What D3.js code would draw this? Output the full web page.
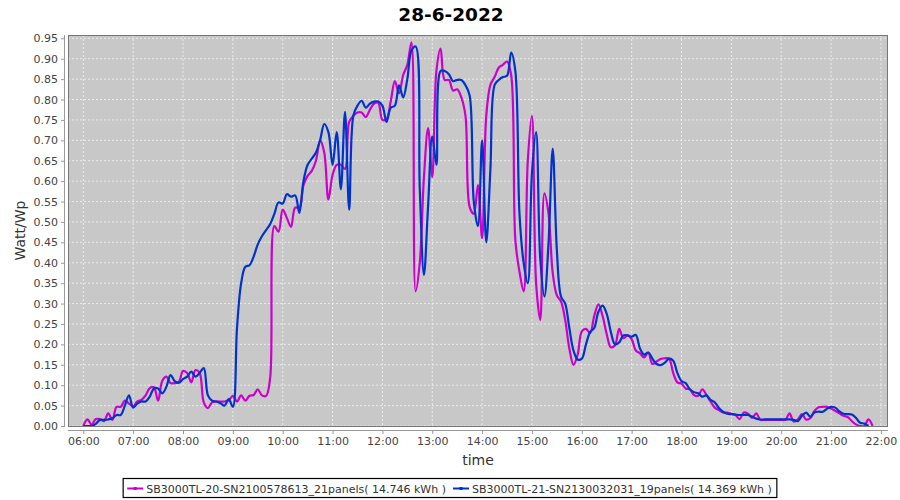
<!DOCTYPE html>
<html><head><meta charset="utf-8">
<script src="https://cdn.jsdelivr.net/npm/d3@7"></script>
<style>body{margin:0;background:#fff}svg{display:block}</style>
</head><body>
<svg id="c" width="900" height="500"></svg>
<script>
const title = "28-6-2022";
const startTime = "06:00";
const stepMinutes = 5;
const xTickLabels = ["06:00","07:00","08:00","09:00","10:00","11:00","12:00","13:00","14:00","15:00","16:00","17:00","18:00","19:00","20:00","21:00","22:00"];
const yTicks = [0,0.05,0.10,0.15,0.20,0.25,0.30,0.35,0.40,0.45,0.50,0.55,0.60,0.65,0.70,0.75,0.80,0.85,0.90,0.95];
const seriesNames = ["SB3000TL-20-SN2100578613_21panels( 14.746 kWh )","SB3000TL-21-SN2130032031_19panels( 14.369 kWh )"];
const seriesColors = ["#cc00cc","#0033cc"];
const magenta = [
0.000,0.016,0.003,0.017,0.017,0.012,0.031,0.015,0.047,0.047,
0.062,0.055,0.048,0.060,0.064,0.075,0.093,0.095,0.062,0.110,
0.121,0.105,0.105,0.108,0.135,0.130,0.107,0.137,0.130,0.058,
0.044,0.058,0.060,0.060,0.060,0.063,0.074,0.060,0.075,0.062,
0.074,0.076,0.090,0.075,0.074,0.120,0.490,0.476,0.530,0.510,
0.488,0.535,0.535,0.590,0.613,0.625,0.650,0.700,0.670,0.555,
0.615,0.640,0.640,0.630,0.745,0.760,0.768,0.768,0.757,0.775,
0.790,0.792,0.750,0.752,0.795,0.845,0.815,0.860,0.885,0.940,
0.330,0.400,0.610,0.730,0.610,0.870,0.925,0.848,0.848,0.822,
0.825,0.805,0.760,0.537,0.520,0.590,0.460,0.760,0.836,0.855,
0.878,0.885,0.893,0.860,0.456,0.378,0.330,0.650,0.760,0.350,
0.260,0.570,0.520,0.375,0.320,0.305,0.260,0.190,0.150,0.175,
0.232,0.238,0.228,0.270,0.298,0.270,0.225,0.193,0.198,0.238,
0.215,0.222,0.213,0.185,0.178,0.168,0.180,0.152,0.158,0.164,
0.166,0.165,0.130,0.107,0.104,0.092,0.090,0.076,0.074,0.090,
0.076,0.060,0.045,0.039,0.033,0.033,0.030,0.027,0.017,0.033,
0.030,0.020,0.031,0.015,0.015,0.015,0.015,0.015,0.015,0.015,
0.031,0.011,0.016,0.029,0.016,0.019,0.037,0.046,0.047,0.047,
0.043,0.037,0.031,0.025,0.022,0.012,0.004,0.000,0.000,0.016,
0.000];
const blue = [
0.000,0.000,0.000,0.005,0.015,0.015,0.016,0.019,0.027,0.027,
0.050,0.075,0.045,0.055,0.060,0.060,0.072,0.092,0.092,0.080,
0.096,0.125,0.110,0.106,0.115,0.121,0.133,0.121,0.130,0.142,
0.075,0.062,0.060,0.056,0.050,0.066,0.047,0.240,0.350,0.390,
0.394,0.415,0.445,0.465,0.480,0.495,0.520,0.548,0.545,0.568,
0.562,0.565,0.522,0.600,0.640,0.655,0.670,0.700,0.740,0.720,
0.640,0.720,0.580,0.770,0.530,0.760,0.785,0.797,0.780,0.790,
0.795,0.795,0.785,0.745,0.780,0.785,0.835,0.805,0.850,0.920,
0.930,0.580,0.370,0.540,0.710,0.640,0.870,0.870,0.862,0.845,
0.848,0.848,0.835,0.810,0.550,0.490,0.700,0.450,0.630,0.835,
0.848,0.855,0.858,0.915,0.870,0.520,0.400,0.350,0.620,0.720,
0.410,0.317,0.450,0.680,0.430,0.317,0.300,0.240,0.185,0.163,
0.165,0.200,0.230,0.240,0.280,0.295,0.275,0.230,0.200,0.205,
0.222,0.222,0.219,0.223,0.190,0.175,0.180,0.165,0.152,0.149,
0.155,0.165,0.160,0.130,0.110,0.105,0.090,0.083,0.080,0.072,
0.075,0.064,0.058,0.044,0.035,0.030,0.029,0.028,0.027,0.027,
0.027,0.023,0.018,0.016,0.016,0.016,0.016,0.016,0.016,0.016,
0.016,0.015,0.012,0.025,0.033,0.023,0.033,0.035,0.035,0.042,
0.047,0.045,0.036,0.030,0.029,0.028,0.020,0.008,0.006,0.000];

const svg = d3.select("#c");
const P = {l:68, r:888, t:35, b:426};
const parse = d3.timeParse("%Y-%m-%d %H:%M");
const t0 = parse("2022-06-28 " + startTime);
const tAt = i => d3.timeMinute.offset(t0, i*stepMinutes);
const x = d3.scaleTime().domain([parse("2022-06-28 06:00"), parse("2022-06-28 22:00")]).range([83.3, 880.9]);
const y = d3.scaleLinear().domain([0,0.95]).range([426, 38.3]);

svg.append("rect").attr("x",P.l).attr("y",P.t).attr("width",P.r-P.l).attr("height",P.b-P.t).attr("fill","#c8c8c8");
const tickDates = xTickLabels.map(s => parse("2022-06-28 " + s));
// grid
svg.append("g").selectAll("line").data(tickDates).join("line")
  .attr("x1",d=>x(d)).attr("x2",d=>x(d)).attr("y1",P.t).attr("y2",P.b)
  .attr("stroke","#f4f4f4").attr("stroke-width",0.8).attr("stroke-dasharray","2,2");
svg.append("g").selectAll("line").data(yTicks).join("line")
  .attr("x1",P.l).attr("x2",P.r).attr("y1",d=>y(d)).attr("y2",d=>y(d))
  .attr("stroke","#f4f4f4").attr("stroke-width",0.8).attr("stroke-dasharray","2,2");

// lines
svg.append("clipPath").attr("id","pc").append("rect").attr("x",P.l).attr("y",P.t).attr("width",P.r-P.l).attr("height",P.b-P.t);
const line = d3.line().x((d,i)=>x(tAt(i))).y(d=>y(d)).curve(d3.curveCatmullRom.alpha(0.5));
[magenta, blue].forEach((s,k)=>{
  svg.append("path").attr("d", line(s)).attr("fill","none").attr("stroke",seriesColors[k])
    .attr("stroke-width",2.2).attr("stroke-linejoin","round").attr("clip-path","url(#pc)");
});
// plot border
svg.append("rect").attr("x",P.l+0.5).attr("y",P.t+0.5).attr("width",P.r-P.l-1).attr("height",P.b-P.t).attr("fill","none").attr("stroke","#777").attr("stroke-width",1);

// axes
const fontF = "'DejaVu Sans', sans-serif";
const xAxis = d3.axisBottom(x).tickValues(tickDates).tickFormat(d3.timeFormat("%H:%M")).tickSizeInner(4).tickSizeOuter(0).tickPadding(3);
const gx = svg.append("g").attr("transform","translate(0,430)").call(xAxis);
gx.select(".domain").attr("d",`M${P.l},0.5H${P.r}`).attr("stroke","#999");
gx.selectAll(".tick line").attr("stroke","#999");
gx.selectAll("text").attr("font-family",fontF).attr("font-size",11).attr("fill","#444");
const yAxis = d3.axisLeft(y).tickValues(yTicks).tickFormat(d3.format(".2f")).tickSizeInner(4).tickSizeOuter(0).tickPadding(3);
const gy = svg.append("g").attr("transform","translate(65,0)").call(yAxis);
gy.select(".domain").attr("d",`M-0.5,${P.t}V${P.b}`).attr("stroke","#999");
gy.selectAll(".tick line").attr("stroke","#999");
gy.selectAll("text").attr("font-family",fontF).attr("font-size",11).attr("fill","#444");

// titles
svg.append("text").attr("x",451).attr("y",21).attr("text-anchor","middle").attr("font-family",fontF)
  .attr("font-weight","bold").attr("font-size",18.5).attr("fill","#000").text(title);
svg.append("text").attr("x",(P.l+P.r)/2).attr("y",465).attr("text-anchor","middle").attr("font-family",fontF)
  .attr("font-size",14).attr("fill","#333").text("time");
svg.append("text").attr("transform",`translate(25,${(P.t+P.b)/2}) rotate(-90)`).attr("text-anchor","middle").attr("font-family",fontF)
  .attr("font-size",14).attr("fill","#333").text("Watt/Wp");

// legend
const lg = svg.append("g");
let cx = 0;
seriesNames.forEach((n,k)=>{
  const g = lg.append("g").attr("transform",`translate(${cx},0)`);
  g.append("line").attr("x1",2).attr("x2",18).attr("y1",0).attr("y2",0).attr("stroke",seriesColors[k]).attr("stroke-width",2);
  g.append("rect").attr("x",8.5).attr("y",-1.5).attr("width",3).attr("height",3).attr("fill",seriesColors[k]);
  const t = g.append("text").attr("x",21).attr("y",4).attr("font-family",fontF).attr("font-size",11).attr("fill","#333").text(n);
  cx += 21 + t.node().getComputedTextLength() + 5;
});
const lw = cx + 2;
const lx = 450 - lw/2;
lg.attr("transform",`translate(${lx+2},488.5)`);
svg.append("rect").attr("x",lx).attr("y",478.5).attr("width",lw).attr("height",19).attr("fill","none").attr("stroke","#000").attr("stroke-width",1.2);
</script>
</body></html>
